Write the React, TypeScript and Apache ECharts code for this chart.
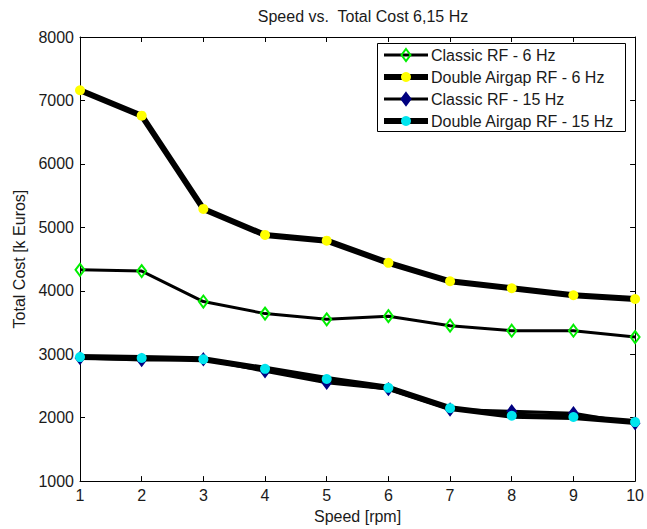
import React, { useEffect, useRef } from "react";
import * as echarts from "echarts";

const speeds = [1, 2, 3, 4, 5, 6, 7, 8, 9, 10];
const classic6 = [4330, 4310, 3830, 3640, 3550, 3600, 3450, 3370, 3370, 3270];
const double6 = [7160, 6760, 5290, 4880, 4790, 4440, 4150, 4040, 3930, 3870];
const classic15 = [2940, 2910, 2920, 2730, 2550, 2450, 2130, 2100, 2070, 1910];
const double15 = [2955, 2940, 2920, 2770, 2610, 2470, 2150, 2030, 2010, 1930];
const seriesNames = [
  "Classic RF - 6 Hz",
  "Double Airgap RF - 6 Hz",
  "Classic RF - 15 Hz",
  "Double Airgap RF - 15 Hz",
];

const FONT = "Liberation Sans, Arial, sans-serif";
const FS = 16;
const TXT = "#1a1a1a";

export default function App() {
  const ref = useRef<HTMLDivElement>(null);
  useEffect(() => {
    if (!ref.current) return;
    const chart = echarts.init(ref.current, null, { renderer: "svg" });
    const pts = (vals: number[]) => speeds.map((s, i) => [s, vals[i]]);
    const axisCommon = {
      type: "value" as const,
      axisLine: { show: true, lineStyle: { color: "#000", width: 1 } },
      axisTick: { show: true, inside: true, length: 5, lineStyle: { color: "#000" } },
      splitLine: { show: false },
    };

    // legend drawn manually (line + marker + text)
    const lx = 377, ly = 43, lw = 248, lh = 88;
    const rowY = [55, 77, 99, 121];
    const legendStyles = [
      { lw: 3, kind: "diamond", fill: "rgba(0,0,0,0)", stroke: "#00ee00" },
      { lw: 6, kind: "circle", fill: "#ffff00", stroke: "#ffff00" },
      { lw: 3, kind: "diamond", fill: "#000080", stroke: "#000080" },
      { lw: 6, kind: "circle", fill: "#00e5ee", stroke: "#00e5ee" },
    ];
    const legendEls: any[] = [
      {
        type: "rect",
        shape: { x: lx + 0.5, y: ly + 0.5, width: lw, height: lh },
        style: { fill: "#fff", stroke: "#000", lineWidth: 1 },
        z: 100,
      },
    ];
    seriesNames.forEach((name, i) => {
      const y = rowY[i];
      const st = legendStyles[i];
      legendEls.push({
        type: "line",
        shape: { x1: 384, y1: y, x2: 428, y2: y },
        style: { stroke: "#000", lineWidth: st.lw },
        z: 101,
      });
      if (st.kind === "diamond") {
        legendEls.push({
          type: "polygon",
          shape: { points: [[406, y - 6], [410.5, y], [406, y + 6], [401.5, y]] },
          style: { fill: st.fill, stroke: st.stroke, lineWidth: 2 },
          z: 102,
        });
      } else {
        legendEls.push({
          type: "circle",
          shape: { cx: 406, cy: y, r: 5 },
          style: { fill: st.fill },
          z: 102,
        });
      }
      legendEls.push({
        type: "text",
        x: 431,
        y: y,
        style: {
          text: name,
          fill: TXT,
          font: `${FS}px ${FONT}`,
          textVerticalAlign: "middle",
          verticalAlign: "middle",
        },
        z: 103,
      });
    });

    chart.setOption({
      animation: false,
      backgroundColor: "#fff",
      textStyle: { fontFamily: FONT },
      title: {
        text: "Speed vs.  Total Cost 6,15 Hz",
        left: 358,
        textAlign: "center",
        top: 3,
        textStyle: { fontSize: FS, fontWeight: "normal", color: TXT, fontFamily: FONT },
      },
      grid: { left: 80, right: 10, top: 37, bottom: 47, show: false },
      graphic: legendEls,
      xAxis: [
        {
          ...axisCommon,
          min: 1,
          max: 10,
          interval: 1,
          position: "bottom",
          name: "Speed [rpm]",
          nameLocation: "middle",
          nameGap: 22,
          nameTextStyle: { fontSize: FS, color: TXT, fontFamily: FONT },
          axisLabel: { fontSize: FS, color: TXT, margin: 6, fontFamily: FONT },
        },
        {
          ...axisCommon,
          min: 1,
          max: 10,
          interval: 1,
          position: "top",
          axisLabel: { show: false },
        },
      ],
      yAxis: [
        {
          ...axisCommon,
          min: 1000,
          max: 8000,
          interval: 1000,
          position: "left",
          name: "Total Cost [k Euros]",
          nameLocation: "middle",
          nameGap: 47,
          nameTextStyle: { fontSize: FS, color: TXT, fontFamily: FONT },
          axisLabel: {
            fontSize: FS,
            color: TXT,
            margin: 6,
            fontFamily: FONT,
            formatter: (v: number) => String(v),
          },
        },
        {
          ...axisCommon,
          min: 1000,
          max: 8000,
          interval: 1000,
          position: "right",
          axisLabel: { show: false },
        },
      ],
      series: [
        {
          name: seriesNames[0],
          type: "line",
          data: pts(classic6),
          symbol: "diamond",
          symbolSize: [9, 12],
          lineStyle: { color: "#000", width: 3 },
          itemStyle: { color: "rgba(0,0,0,0)", borderColor: "#00ee00", borderWidth: 2 },
          z: 2,
        },
        {
          name: seriesNames[1],
          type: "line",
          data: pts(double6),
          symbol: "circle",
          symbolSize: 10,
          lineStyle: { color: "#000", width: 6 },
          itemStyle: { color: "#ffff00", borderWidth: 0 },
          z: 3,
        },
        {
          name: seriesNames[2],
          type: "line",
          data: pts(classic15),
          symbol: "diamond",
          symbolSize: [9, 12],
          lineStyle: { color: "#000", width: 3 },
          itemStyle: { color: "#000080", borderColor: "#000080", borderWidth: 1.5 },
          z: 4,
        },
        {
          name: seriesNames[3],
          type: "line",
          data: pts(double15),
          symbol: "circle",
          symbolSize: 10,
          lineStyle: { color: "#000", width: 6 },
          itemStyle: { color: "#00e5ee", borderWidth: 0 },
          z: 5,
        },
      ],
    });
    return () => chart.dispose();
  }, []);
  return (
    <div
      ref={ref}
      style={{ position: "absolute", left: 0, top: 0, width: 647, height: 529 }}
    />
  );
}
